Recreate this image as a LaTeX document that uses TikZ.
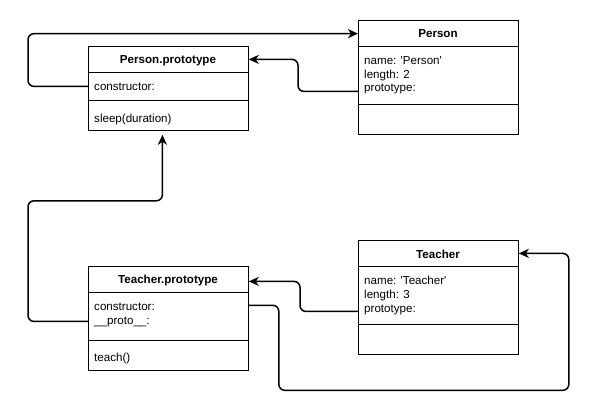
\documentclass[tikz,border=0pt]{standalone}
\usepackage{fontspec}
\setmainfont{Liberation Sans}[Ligatures=TeXOff]
\usetikzlibrary{arrows.meta}
\begin{document}
\begin{tikzpicture}[x=1pt,y=-1pt,
  comp/.style={draw, line width=0.8pt, minimum width=160pt, inner sep=0pt, anchor=north west},
  title/.style={font=\fontsize{11.6}{13}\selectfont\bfseries, anchor=base, inner sep=0pt},
  txt/.style={font=\fontsize{11.6}{14}\selectfont, anchor=base west, inner sep=0pt},
  link/.style={line width=1.5pt, rounded corners=6pt},
  arr/.style={-{Stealth[length=10pt,width=9pt,inset=3pt]}}
]
\useasboundingbox[fill=white] (0,0) rectangle (597,420);

% Person.prototype
\node[comp, minimum height=26pt] (ppH) at (88,46) {};
\node[comp, minimum height=28pt] (ppF) at (88,72) {};
\node[comp, minimum height=30pt] (ppM) at (88,100) {};
\node[title] (ppT) at (168,63.5) {Person.prototype};
\node[txt] (ppf1) at (94,90) {constructor:};
\node[txt] (ppm1) at (94,122) {sleep(duration)};

% Person
\node[comp, minimum height=26.5pt] (pH) at (358,20) {};
\node[comp, minimum height=57.5pt] (pF) at (358,46.5) {};
\node[comp, minimum height=30pt] (pM) at (358,104) {};
\node[title] (pT) at (438,38) {Person};
\node[txt] (pf1) at (364,64) {name: 'Person'};
\node[txt] (pf2) at (364,78) {length: 2};
\node[txt] (pf3) at (364,92) {prototype:};

% Teacher.prototype
\node[comp, minimum height=26pt] (tpH) at (88,266) {};
\node[comp, minimum height=48pt] (tpF) at (88,292) {};
\node[comp, minimum height=30pt] (tpM) at (88,340) {};
\node[title] (tpT) at (168,283.5) {Teacher.prototype};
\node[txt] (tpf1) at (94,310) {constructor:};
\node[txt] (tpf2) at (94,324) {\_\_proto\_\_:};
\node[txt] (tpm1) at (94,361) {teach()};

% Teacher
\node[comp, minimum height=26pt] (tH) at (358,240) {};
\node[comp, minimum height=58pt] (tF) at (358,266) {};
\node[comp, minimum height=30pt] (tM) at (358,324) {};
\node[title] (tT) at (438,258) {Teacher};
\node[txt] (tf1) at (364,284) {name: 'Teacher'};
\node[txt] (tf2) at (364,298) {length: 3};
\node[txt] (tf3) at (364,312) {prototype:};

\coordinate (ppIn) at ([xshift=-6pt,yshift=-4pt]ppM.south);

% connectors
\draw[link,arr] (ppF.west) -- ++(-60,0) |- (pH.west);
\draw[link,arr] ([yshift=-2pt]pF.west |- pf3) -- ++(-60,0) |- (ppH.east);
\draw[link,arr] (tpF.west |- tpf2) -- ++(-60,0) |- ([yshift=-66pt]ppIn) -- (ppIn);
\draw[link,arr] ([yshift=-2pt]tF.west |- tf3) -- ++(-58,0) |- ([yshift=-2pt]tpH.east);
\draw[link,arr] ([yshift=1pt]tpF.east |- tpf1) -- ++(30,0) -- ++(0,85) -- ++(290,0) |- (tH.east);
\end{tikzpicture}
\end{document}
